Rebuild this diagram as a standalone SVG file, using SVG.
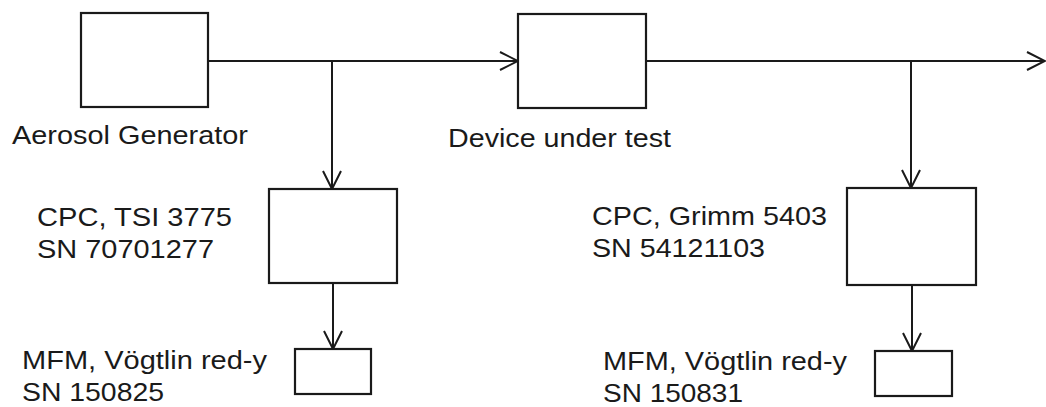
<svg xmlns="http://www.w3.org/2000/svg" width="1046" height="407" viewBox="0 0 1046 407">
<style>
.box{fill:#fff;stroke:#1a1a1a;stroke-width:2.2}
.ln{fill:none;stroke:#1a1a1a;stroke-width:2}
.t{font-family:"Liberation Sans",Arial,sans-serif;font-size:26px;fill:#1a1a1a}
</style>
<defs>
<marker id="ah" viewBox="0 0 20 20" refX="19" refY="10" markerWidth="20" markerHeight="20" markerUnits="userSpaceOnUse" orient="auto">
<path d="M1,1 L19,10 L1,19" fill="none" stroke="#1a1a1a" stroke-width="2"/>
</marker>
</defs>
<rect width="1046" height="407" fill="#fff"/>
<g id="connectors">
<path class="ln" d="M208,61 H518" marker-end="url(#ah)"/>
<path class="ln" d="M332,61 V189" marker-end="url(#ah)"/>
<path class="ln" d="M646,61 H1045" marker-end="url(#ah)"/>
<path class="ln" d="M911,61 V188" marker-end="url(#ah)"/>
<path class="ln" d="M333,283 V349" marker-end="url(#ah)"/>
<path class="ln" d="M912,285 V351" marker-end="url(#ah)"/>
</g>
<g id="aerosol-generator">
<rect class="box" x="81" y="13" width="127" height="94"/>
<text class="t" x="12" y="144" textLength="236" lengthAdjust="spacingAndGlyphs">Aerosol Generator</text>
</g>
<g id="device-under-test">
<rect class="box" x="518" y="14" width="128" height="94"/>
<text class="t" x="448" y="147" textLength="223" lengthAdjust="spacingAndGlyphs">Device under test</text>
</g>
<g id="cpc-tsi">
<rect class="box" x="269" y="189" width="128" height="94"/>
<text class="t" x="37" y="226" textLength="195" lengthAdjust="spacingAndGlyphs">CPC, TSI 3775</text>
<text class="t" x="37" y="258" textLength="177" lengthAdjust="spacingAndGlyphs">SN 70701277</text>
</g>
<g id="cpc-grimm">
<rect class="box" x="847" y="188" width="129" height="97"/>
<text class="t" x="592" y="225" textLength="235" lengthAdjust="spacingAndGlyphs">CPC, Grimm 5403</text>
<text class="t" x="592" y="257" textLength="173" lengthAdjust="spacingAndGlyphs">SN 54121103</text>
</g>
<g id="mfm-1">
<rect class="box" x="295" y="349" width="76" height="45"/>
<text class="t" x="22" y="369" textLength="245" lengthAdjust="spacingAndGlyphs">MFM, Vögtlin red-y</text>
<text class="t" x="22" y="401" textLength="142" lengthAdjust="spacingAndGlyphs">SN 150825</text>
</g>
<g id="mfm-2">
<rect class="box" x="875" y="351" width="77" height="45"/>
<text class="t" x="603" y="370" textLength="244" lengthAdjust="spacingAndGlyphs">MFM, Vögtlin red-y</text>
<text class="t" x="603" y="402" textLength="140" lengthAdjust="spacingAndGlyphs">SN 150831</text>
</g>
</svg>
